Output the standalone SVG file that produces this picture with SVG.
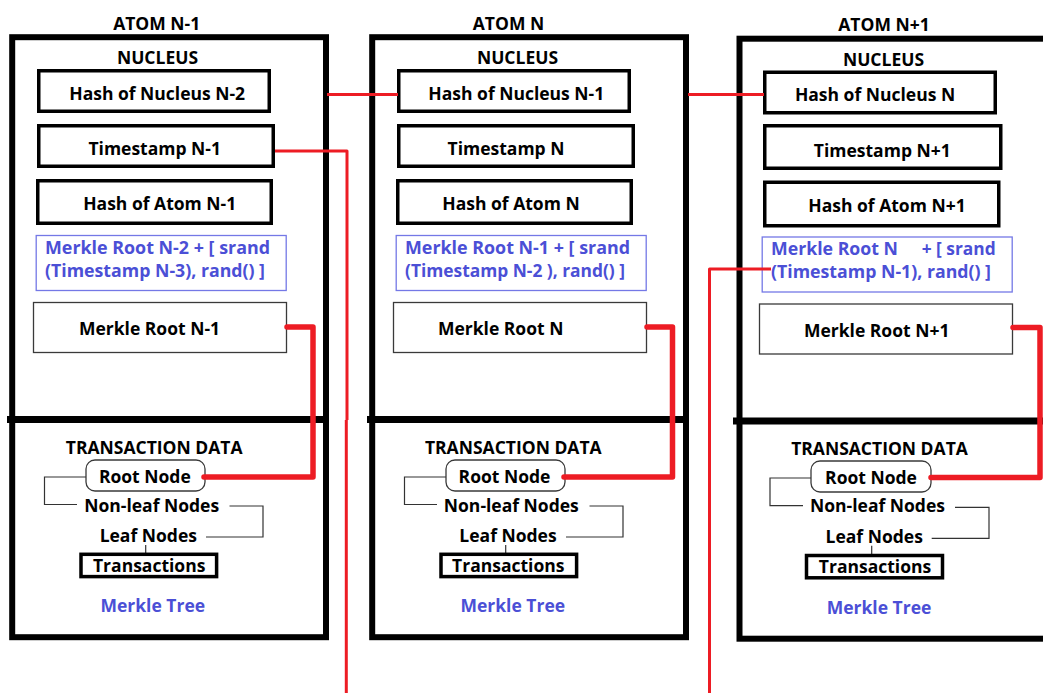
<svg xmlns="http://www.w3.org/2000/svg" width="1043" height="693" viewBox="0 0 1043 693">
<style>
.t{font-family:"Open Sans","Liberation Sans",sans-serif;font-weight:700;font-size:17.5px;fill:#000;text-anchor:middle;transform:translate(0px,1.5px)}
.bt{fill:#4b4fd6;text-anchor:start}
.mt{fill:#4b4fd6}
.frame{fill:none;stroke:#000;stroke-width:6}
.div{stroke:#000;stroke-width:7}
.box{fill:#fff;stroke:#000;stroke-width:3.5}
.thin{fill:#fff;stroke:#3a3a3a;stroke-width:1.3}
.blue{fill:#fff;stroke:#7478e6;stroke-width:1.3}
.br{fill:none;stroke:#333;stroke-width:1.2}
.red{fill:none;stroke:#ed1c24;stroke-width:3;stroke-linejoin:round}
.redw{fill:none;stroke:#ed1c24;stroke-width:5.5;stroke-linejoin:round;stroke-linecap:round}
</style>
<rect width="1043" height="693" fill="#fff"/>

<g id="atom-n-1">
  <rect class="frame" x="12.2" y="37.2" width="313.8" height="600"/>
  <line class="div" x1="7" y1="419.5" x2="329" y2="419.5"/>
  <text class="t" x="156.7" y="28">ATOM N-1</text>
  <text class="t" x="157.5" y="62.7">NUCLEUS</text>
  <g id="hash-nucleus-n-2"><rect class="box" x="38.75" y="70.75" width="230.5" height="40.5"/><text class="t" x="157.2" y="98">Hash of Nucleus N-2</text></g>
  <g id="timestamp-n-1"><rect class="box" x="38.75" y="125.75" width="234.5" height="40.5"/><text class="t" x="154.7" y="153">Timestamp N-1</text></g>
  <g id="hash-atom-n-1"><rect class="box" x="37.75" y="180.75" width="233.5" height="42.5"/><text class="t" x="159.7" y="208.3">Hash of Atom N-1</text></g>
  <g id="formula-n-1"><rect class="blue" x="36.2" y="235.5" width="250" height="55"/><text class="t bt" x="45" y="252" textLength="225" lengthAdjust="spacingAndGlyphs">Merkle Root N-2 + [ srand</text><text class="t bt" x="45" y="275" textLength="220" lengthAdjust="spacingAndGlyphs">(Timestamp N-3), rand() ]</text></g>
  <g id="merkle-root-n-1"><rect class="thin" x="33.5" y="302.5" width="253" height="50"/><text class="t" x="149.5" y="333">Merkle Root N-1</text></g>
  <text class="t" x="154.2" y="452.7">TRANSACTION DATA</text>
  <g id="root-node-n-1"><rect class="thin" x="86" y="460" width="119" height="31" rx="9"/><text class="t" x="144.8" y="481.7">Root Node</text></g>
  <polyline class="br" points="86,477 44.5,477 44.5,504.5 77,504.5"/>
  <text class="t" x="151.7" y="510">Non-leaf Nodes</text>
  <polyline class="br" points="229.5,506 263,506 263,537 206,537"/>
  <text class="t" x="148.3" y="540.7">Leaf Nodes</text>
  <line class="br" x1="145.7" y1="545" x2="145.7" y2="554"/>
  <g id="transactions-n-1"><rect class="box" x="81" y="554.3" width="135.6" height="22.3"/><text class="t" x="149.2" y="570.7">Transactions</text></g>
  <text class="t mt" x="152.8" y="610">Merkle Tree</text>
</g>

<g id="atom-n" transform="translate(360,0)">
  <rect class="frame" x="12.2" y="37.2" width="313.8" height="600"/>
  <line class="div" x1="7" y1="419.5" x2="329" y2="419.5"/>
  <text class="t" x="148.5" y="28">ATOM N</text>
  <text class="t" x="157.5" y="62.7">NUCLEUS</text>
  <g id="hash-nucleus-n-1"><rect class="box" x="38.75" y="70.75" width="230.5" height="40.5"/><text class="t" x="156.3" y="98">Hash of Nucleus N-1</text></g>
  <g id="timestamp-n"><rect class="box" x="38.75" y="125.75" width="234.5" height="40.5"/><text class="t" x="146" y="153">Timestamp N</text></g>
  <g id="hash-atom-n"><rect class="box" x="37.75" y="180.75" width="233.5" height="42.5"/><text class="t" x="151" y="208.3">Hash of Atom N</text></g>
  <g id="formula-n"><rect class="blue" x="36.2" y="235.5" width="250" height="55"/><text class="t bt" x="45" y="252" textLength="225" lengthAdjust="spacingAndGlyphs">Merkle Root N-1 + [ srand</text><text class="t bt" x="45" y="275" textLength="220" lengthAdjust="spacingAndGlyphs">(Timestamp N-2 ), rand() ]</text></g>
  <g id="merkle-root-n"><rect class="thin" x="33.5" y="302.5" width="253" height="50"/><text class="t" x="140.7" y="333">Merkle Root N</text></g>
  <text class="t" x="153.3" y="452.7">TRANSACTION DATA</text>
  <g id="root-node-n"><rect class="thin" x="86" y="460" width="119" height="31" rx="9"/><text class="t" x="144.5" y="481.7">Root Node</text></g>
  <polyline class="br" points="86,477 44.5,477 44.5,504.5 77,504.5"/>
  <text class="t" x="151.3" y="510">Non-leaf Nodes</text>
  <polyline class="br" points="229.5,506 263,506 263,537 206,537"/>
  <text class="t" x="148" y="540.7">Leaf Nodes</text>
  <line class="br" x1="145.7" y1="545" x2="145.7" y2="554"/>
  <g id="transactions-n"><rect class="box" x="81" y="554.3" width="135.6" height="22.3"/><text class="t" x="148.3" y="570.7">Transactions</text></g>
  <text class="t mt" x="152.8" y="610">Merkle Tree</text>
</g>

<g id="atom-n1" transform="translate(726,1.5)">
  <rect class="frame" x="13.5" y="37.2" width="313.8" height="600"/>
  <line class="div" x1="7" y1="419.5" x2="330" y2="419.5"/>
  <text class="t" x="158" y="28">ATOM N+1</text>
  <text class="t" x="157.5" y="62.7">NUCLEUS</text>
  <g id="hash-nucleus-n"><rect class="box" x="38.75" y="70.75" width="230.5" height="40.5"/><text class="t" x="149" y="98">Hash of Nucleus N</text></g>
  <g id="timestamp-n1"><rect class="box" x="38.75" y="124.25" width="236" height="42.5"/><text class="t" x="156.3" y="153.5">Timestamp N+1</text></g>
  <g id="hash-atom-n1"><rect class="box" x="38.75" y="180.75" width="234" height="43.5"/><text class="t" x="161" y="209.2">Hash of Atom N+1</text></g>
  <g id="formula-n1"><rect class="blue" x="36.2" y="235.5" width="250" height="55"/><text class="t bt" x="45" y="252"><tspan textLength="127" lengthAdjust="spacingAndGlyphs">Merkle Root N</tspan><tspan x="195.7" textLength="74" lengthAdjust="spacingAndGlyphs">+ [ srand</tspan></text><text class="t bt" x="45" y="275" textLength="220" lengthAdjust="spacingAndGlyphs">(Timestamp N-1), rand() ]</text></g>
  <g id="merkle-root-n1"><rect class="thin" x="33.5" y="302.5" width="253" height="50"/><text class="t" x="150.7" y="333.5">Merkle Root N+1</text></g>
  <text class="t" x="153.5" y="452">TRANSACTION DATA</text>
  <g id="root-node-n1"><rect class="thin" x="85" y="459.5" width="120" height="31" rx="9"/><text class="t" x="145" y="481.2">Root Node</text></g>
  <polyline class="br" points="85,476.5 44,476.5 44,504.2 77,504.2"/>
  <text class="t" x="151.5" y="509.2">Non-leaf Nodes</text>
  <polyline class="br" points="229,505.8 263,505.8 263,536.8 205.7,536.8"/>
  <text class="t" x="148.2" y="540.2">Leaf Nodes</text>
  <line class="br" x1="145.7" y1="544.2" x2="145.7" y2="552.5"/>
  <g id="transactions-n1"><rect class="box" x="80.5" y="554" width="136" height="22.3"/><text class="t" x="149" y="570.2">Transactions</text></g>
  <text class="t mt" x="153" y="610.5">Merkle Tree</text>
</g>

<g id="connectors">
  <line class="red" x1="327" y1="94.5" x2="398" y2="94.5"/>
  <line class="red" x1="688" y1="94.5" x2="764" y2="94.5"/>
  <polyline class="red" points="275,151 347,151 347,420"/>
  <line class="red" x1="346.3" y1="420" x2="346.3" y2="693"/>
  <polyline class="red" points="771,269 709.5,269 709.5,693"/>
  <polyline class="redw" points="287,327 313,327 313,477 204,477"/>
  <polyline class="redw" points="647,327 672.5,327 672.5,477 564,477"/>
  <polyline class="redw" points="1013,327.5 1040,327.5 1040,477.5 931,477.5"/>
</g>
</svg>
